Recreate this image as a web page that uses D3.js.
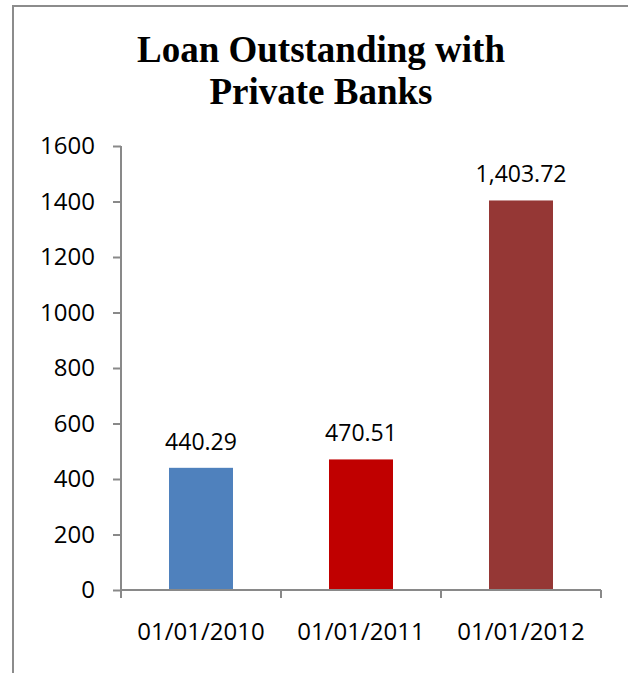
<!DOCTYPE html>
<html>
<head>
<meta charset="utf-8">
<script src="https://cdn.jsdelivr.net/npm/d3@7"></script>
<style>
  html, body { margin: 0; padding: 0; background: #ffffff; }
  svg { display: block; }
</style>
</head>
<body>
<script>
// Chart data
const categories = ["01/01/2010", "01/01/2011", "01/01/2012"];
const values = [440.29, 470.51, 1403.72];
const valueLabels = ["440.29", "470.51", "1,403.72"];
const barColors = ["#4F81BD", "#C00000", "#953735"];
const yTicks = [0, 200, 400, 600, 800, 1000, 1200, 1400, 1600];
const titleLines = ["Loan Outstanding with", "Private Banks"];

const W = 628, H = 673;
const margin = { left: 121, right: 27, top: 146, bottom: 83 };
const axisColor = "#898989";
const font = "'Open Sans', 'Liberation Sans', sans-serif";

const svg = d3.select("body").append("svg")
  .attr("width", W).attr("height", H);

// Outer frame (top and left edges visible)
svg.append("path")
  .attr("d", `M13,${H} L13,6 L${W},6`)
  .attr("fill", "none")
  .attr("stroke", "#8c8c8c")
  .attr("stroke-width", 2);

// Title
svg.append("text")
  .attr("x", 321)
  .attr("font-family", "'Liberation Serif', 'Times New Roman', serif")
  .attr("font-weight", "bold")
  .attr("font-size", 37)
  .attr("text-anchor", "middle")
  .selectAll("tspan")
  .data(titleLines)
  .join("tspan")
  .attr("x", 321)
  .attr("y", (d, i) => 62 + i * 42)
  .text(d => d);

const x = d3.scaleBand()
  .domain(categories)
  .range([margin.left, W - margin.right])
  .paddingInner(0.6)
  .paddingOuter(0.3);

const y = d3.scaleLinear()
  .domain([0, 1600])
  .range([H - margin.bottom, margin.top]);

// Y axis
const yAxis = svg.append("g")
  .attr("transform", `translate(${margin.left},0)`)
  .call(d3.axisLeft(y).tickValues(yTicks).tickSize(8).tickPadding(18).tickFormat(d3.format("d")));
yAxis.select(".domain").attr("stroke", axisColor).attr("stroke-width", 2)
  .attr("d", `M0,${y(1600)}H0V${y(0)}`);
yAxis.selectAll(".tick line").attr("stroke", axisColor).attr("stroke-width", 2);
yAxis.selectAll(".tick text")
  .attr("font-family", font).attr("font-size", 24).attr("fill", "#000");

// Bars
svg.append("g").selectAll("rect")
  .data(values)
  .join("rect")
  .attr("x", (d, i) => x(categories[i]))
  .attr("width", x.bandwidth())
  .attr("y", d => y(d))
  .attr("height", d => y(0) - y(d))
  .attr("fill", (d, i) => barColors[i]);

// X axis with ticks at category boundaries
const step = x.step();
const x0 = margin.left, x1 = W - margin.right;
const xAxis = svg.append("g").attr("transform", `translate(0,${y(0)})`);
xAxis.append("line")
  .attr("x1", x0).attr("x2", x1).attr("y1", 0).attr("y2", 0)
  .attr("stroke", axisColor).attr("stroke-width", 2);
const boundaries = d3.range(categories.length + 1).map(i => x0 + i * (x1 - x0) / categories.length);
xAxis.selectAll("line.tk")
  .data(boundaries)
  .join("line")
  .attr("class", "tk")
  .attr("x1", d => d).attr("x2", d => d)
  .attr("y1", 0).attr("y2", 8)
  .attr("stroke", axisColor).attr("stroke-width", 2);
xAxis.selectAll("text")
  .data(categories)
  .join("text")
  .attr("x", d => x(d) + x.bandwidth() / 2)
  .attr("y", 50)
  .attr("text-anchor", "middle")
  .attr("font-family", font).attr("font-size", 24).attr("fill", "#000")
  .text(d => d);

// Value labels above bars
svg.append("g").selectAll("text")
  .data(values)
  .join("text")
  .attr("x", (d, i) => x(categories[i]) + x.bandwidth() / 2)
  .attr("y", d => y(d) - 18)
  .attr("text-anchor", "middle")
  .attr("font-family", font).attr("font-size", 23).attr("fill", "#000")
  .text((d, i) => valueLabels[i]);
</script>
</body>
</html>
